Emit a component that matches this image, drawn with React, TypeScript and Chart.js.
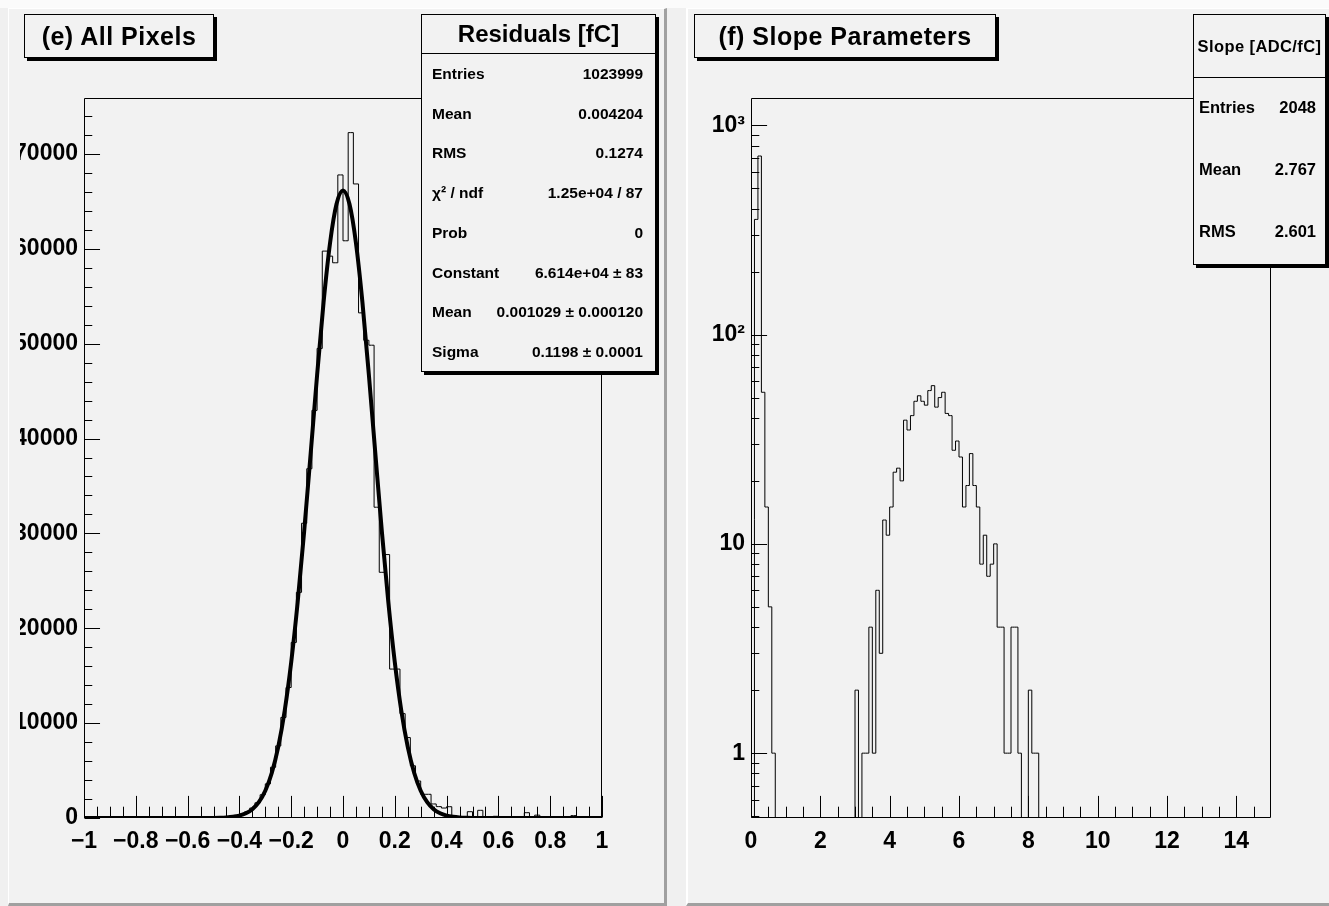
import React, { useEffect, useRef } from "react";
import { Chart, registerables } from "chart.js";
Chart.register(...registerables);

const FONT = '"Liberation Sans", Arial, Helvetica, sans-serif';

// ---------- (e) All Pixels : residuals histogram ----------
const residualBinLow = -1;
const residualBinWidth = 0.02;
const residualCounts = [
  20, 10, 30, 0, 20, 40, 10, 30, 20, 50,
  30, 40, 60, 30, 50, 70, 40, 60, 80, 50,
  90, 70, 100, 80, 120, 100, 130, 160, 200, 280,
  420, 650, 1050, 1600, 2450, 3600, 5350, 7600, 10600, 13760,
  18510, 23790, 31070, 36820, 42970, 49500, 59760, 59230, 58530, 67790,
  60850, 72250, 66840, 53250, 50360, 49840, 32760, 25900, 27770, 15700,
  15700, 11000, 8480, 5500, 3900, 2500, 2500, 1480, 1200, 1050,
  1190, 220, 150, 120, 665, 150, 810, 120, 100, 180,
  90, 120, 80, 110, 90, 560, 100, 300, 80, 120,
  60, 90, 50, 70, 250, 40, 60, 30, 50, 20,
];
// Gaussian fit curve (Constant 6.614e4, Sigma 0.1198)
const fitX = [
  -1, -0.6, -0.55, -0.5, -0.475, -0.45, -0.425, -0.4, -0.375, -0.35, -0.325, -0.3,
  -0.275, -0.25, -0.225, -0.2, -0.175, -0.15, -0.125, -0.1, -0.075, -0.05, -0.025,
  0, 0.025, 0.05, 0.075, 0.1, 0.125, 0.15, 0.175, 0.2, 0.225, 0.25, 0.275, 0.3,
  0.325, 0.35, 0.375, 0.4, 0.425, 0.45, 0.475, 0.5, 0.55, 0.6, 1,
];
const fitY = [
  0, 0, 1, 11, 26, 57, 122, 251, 493, 927, 1669, 2876,
  4744, 7496, 11338, 16416, 22757, 30203, 38375, 46683, 54370, 60624, 64715,
  66140, 64715, 60624, 54370, 46683, 38375, 30203, 22757, 16416, 11338, 7496, 4744, 2876,
  1669, 927, 493, 251, 122, 57, 26, 11, 1, 0, 0,
];
const residualXTicks = [-1, -0.8, -0.6, -0.4, -0.2, 0, 0.2, 0.4, 0.6, 0.8, 1];
const residualXLabels = ["\u22121", "\u22120.8", "\u22120.6", "\u22120.4", "\u22120.2", "0", "0.2", "0.4", "0.6", "0.8", "1"];
const residualXMinor = [
  -0.95, -0.9, -0.85, -0.75, -0.7, -0.65, -0.55, -0.5, -0.45, -0.35, -0.3, -0.25,
  -0.15, -0.1, -0.05, 0.05, 0.1, 0.15, 0.25, 0.3, 0.35, 0.45, 0.5, 0.55, 0.65, 0.7,
  0.75, 0.85, 0.9, 0.95,
];
const residualYTicks = [0, 10000, 20000, 30000, 40000, 50000, 60000, 70000];
const residualYLabels = ["0", "10000", "20000", "30000", "40000", "50000", "60000", "70000"];
const residualYMinor = [
  2000, 4000, 6000, 8000, 12000, 14000, 16000, 18000, 22000, 24000, 26000, 28000,
  32000, 34000, 36000, 38000, 42000, 44000, 46000, 48000, 52000, 54000, 56000, 58000,
  62000, 64000, 66000, 68000, 72000, 74000,
];
const residualYMax = 75900;
const residualStats = [
  ["Entries", "1023999"],
  ["Mean", "0.004204"],
  ["RMS", "0.1274"],
  ["\u03c7\u00b2 / ndf", "1.25e+04 / 87"],
  ["Prob", "0"],
  ["Constant", "6.614e+04 \u00b1 83"],
  ["Mean", "0.001029 \u00b1 0.000120"],
  ["Sigma", "0.1198 \u00b1 0.0001"],
];

// ---------- (f) Slope Parameters ----------
const slopeBinLow = 0;
const slopeBinWidth = 0.1;
const slopeCounts = [
  0, 355, 713, 53, 15, 5, 1, 0, 0, 0,
  0, 0, 0, 0, 0, 0, 0, 0, 0, 0,
  0, 0, 0, 0, 0, 0, 0, 0, 0, 0,
  2, 0, 1, 1, 4, 1, 6, 3, 13, 11,
  15, 22, 23, 20, 39, 35, 41, 48, 51, 48,
  46, 54, 57, 45, 50, 53, 42, 41, 28, 31,
  26, 15, 19, 27, 19, 15, 8, 11, 7, 8,
  10, 4, 4, 1, 1, 4, 4, 1, 0, 0,
  2, 1, 1, 0, 0, 0, 0, 0, 0, 0,
  0, 0, 0, 0, 0, 0, 0, 0, 0, 0,
  0, 0, 0, 0, 0, 0, 0, 0, 0, 0,
  0, 0, 0, 0, 0, 0, 0, 0, 0, 0,
  0, 0, 0, 0, 0, 0, 0, 0, 0, 0,
  0, 0, 0, 0, 0, 0, 0, 0, 0, 0,
  0, 0, 0, 0, 0, 0, 0, 0, 0, 0,
];
const slopeXTicks = [0, 2, 4, 6, 8, 10, 12, 14];
const slopeXLabels = ["0", "2", "4", "6", "8", "10", "12", "14"];
const slopeXMinor = [0.5, 1, 1.5, 2.5, 3, 3.5, 4.5, 5, 5.5, 6.5, 7, 7.5, 8.5, 9, 9.5, 10.5, 11, 11.5, 12.5, 13, 13.5, 14.5];
const slopeYTicks = [1, 10, 100, 1000];
const slopeYLabels = ["1", "10", "10\u00b2", "10\u00b3"];
const slopeYMinor = [0.5, 0.6, 0.7, 0.8, 0.9, 2, 3, 4, 5, 6, 7, 8, 9, 20, 30, 40, 50, 60, 70, 80, 90, 200, 300, 400, 500, 600, 700, 800, 900];
const slopeYMin = 0.49;
const slopeYMax = 1350;
const slopeStats = [
  ["Entries", "2048"],
  ["Mean", "2.767"],
  ["RMS", "2.601"],
];

function stepPoints(low: number, width: number, counts: number[], floor?: number) {
  const v = (c: number) => (floor !== undefined && c <= 0 ? floor : c);
  const pts: { x: number; y: number }[] = [];
  pts.push({ x: low, y: v(counts[0]) });
  counts.forEach((c, i) => pts.push({ x: low + width * (i + 0.5), y: v(c) }));
  pts.push({ x: low + width * counts.length, y: v(counts[counts.length - 1]) });
  return pts;
}

function axesPlugin(cfg: { xMajor: number[]; xMinor: number[]; yMajor: number[]; yMinor: number[] }) {
  return {
    id: "rootAxes",
    afterDatasetsDraw(chart: any) {
      const { ctx, chartArea: a } = chart;
      const xs = chart.scales.x;
      const ys = chart.scales.y;
      const W = a.right - a.left;
      const H = a.bottom - a.top;
      const L = Math.round(a.left) + 0.5;
      const R = Math.round(a.right) - 0.5;
      const T = Math.round(a.top) + 0.5;
      const B = Math.round(a.bottom) - 0.5;
      const yMaj = 0.03 * W;
      const xMaj = 0.03 * H;
      ctx.save();
      ctx.strokeStyle = "#000";
      ctx.lineWidth = 1;
      ctx.beginPath();
      ctx.rect(L, T, R - L, B - T);
      const yLine = (v: number, len: number) => {
        if (v < ys.min || v > ys.max) return;
        const p = Math.round(ys.getPixelForValue(v)) + 0.5;
        ctx.moveTo(L, p);
        ctx.lineTo(L + len, p);
      };
      const xLine = (v: number, len: number) => {
        if (v < xs.min || v > xs.max) return;
        const p = Math.round(xs.getPixelForValue(v)) + 0.5;
        ctx.moveTo(p, B);
        ctx.lineTo(p, B - len);
      };
      cfg.yMajor.forEach((v) => yLine(v, yMaj));
      cfg.yMinor.forEach((v) => yLine(v, yMaj / 2));
      cfg.xMajor.forEach((v) => xLine(v, xMaj));
      cfg.xMinor.forEach((v) => xLine(v, xMaj / 2));
      ctx.stroke();
      ctx.restore();
    },
  };
}

const tickFont = { family: FONT, size: 23, weight: "bold" as const };

function App() {
  const leftRef = useRef<HTMLCanvasElement>(null);
  const rightRef = useRef<HTMLCanvasElement>(null);

  useEffect(() => {
    const left = new Chart(leftRef.current!, {
      type: "line",
      data: {
        datasets: [
          {
            data: fitX.map((x, i) => ({ x, y: fitY[i] })),
            borderColor: "#000",
            borderWidth: 4,
            pointRadius: 0,
            cubicInterpolationMode: "monotone",
            fill: false,
          } as any,
          {
            data: stepPoints(residualBinLow, residualBinWidth, residualCounts),
            borderColor: "#000",
            borderWidth: 1,
            pointRadius: 0,
            stepped: "middle",
            fill: false,
          } as any,
        ],
      },
      options: {
        animation: false,
        responsive: false,
        maintainAspectRatio: false,
        devicePixelRatio: 1,
        layout: { padding: { top: 90, right: 61, left: 0, bottom: 0 } },
        plugins: { legend: { display: false }, tooltip: { enabled: false } },
        scales: {
          x: {
            type: "linear",
            min: -1,
            max: 1,
            grid: { display: false, drawTicks: false },
            border: { display: false },
            ticks: {
              autoSkip: false,
              maxRotation: 0,
              minRotation: 0,
              padding: 10,
              color: "#000",
              font: tickFont,
              callback: (_v: any, i: number) => residualXLabels[i],
            },
            afterBuildTicks: (s: any) => {
              s.ticks = residualXTicks.map((value) => ({ value }));
            },
            afterFit: (s: any) => {
              s.height = 85;
            },
          },
          y: {
            type: "linear",
            min: 0,
            max: residualYMax,
            grid: { display: false, drawTicks: false },
            border: { display: false },
            ticks: {
              autoSkip: false,
              padding: 6,
              color: "#000",
              font: tickFont,
              callback: (_v: any, i: number) => residualYLabels[i],
            },
            afterBuildTicks: (s: any) => {
              s.ticks = residualYTicks.map((value) => ({ value }));
            },
            afterFit: (s: any) => {
              s.width = 64;
            },
          },
        },
      } as any,
      plugins: [axesPlugin({ xMajor: residualXTicks, xMinor: residualXMinor, yMajor: residualYTicks, yMinor: residualYMinor })],
    });

    const right = new Chart(rightRef.current!, {
      type: "line",
      data: {
        datasets: [
          {
            data: stepPoints(slopeBinLow, slopeBinWidth, slopeCounts, 0.01),
            borderColor: "#000",
            borderWidth: 1,
            pointRadius: 0,
            stepped: "middle",
            fill: false,
          } as any,
        ],
      },
      options: {
        animation: false,
        responsive: false,
        maintainAspectRatio: false,
        devicePixelRatio: 1,
        layout: { padding: { top: 90, right: 55, left: 0, bottom: 0 } },
        plugins: { legend: { display: false }, tooltip: { enabled: false } },
        scales: {
          x: {
            type: "linear",
            min: 0,
            max: 15,
            grid: { display: false, drawTicks: false },
            border: { display: false },
            ticks: {
              autoSkip: false,
              maxRotation: 0,
              minRotation: 0,
              padding: 10,
              color: "#000",
              font: tickFont,
              callback: (_v: any, i: number) => slopeXLabels[i],
            },
            afterBuildTicks: (s: any) => {
              s.ticks = slopeXTicks.map((value) => ({ value }));
            },
            afterFit: (s: any) => {
              s.height = 85;
            },
          },
          y: {
            type: "logarithmic",
            min: slopeYMin,
            max: slopeYMax,
            grid: { display: false, drawTicks: false },
            border: { display: false },
            ticks: {
              autoSkip: false,
              padding: 6,
              color: "#000",
              font: tickFont,
              callback: (_v: any, i: number) => slopeYLabels[i],
            },
            afterBuildTicks: (s: any) => {
              s.ticks = slopeYTicks.map((value) => ({ value }));
            },
            afterFit: (s: any) => {
              s.width = 61;
            },
          },
        },
      } as any,
      plugins: [axesPlugin({ xMajor: slopeXTicks, xMinor: slopeXMinor, yMajor: slopeYTicks, yMinor: slopeYMinor })],
    });

    return () => {
      left.destroy();
      right.destroy();
    };
  }, []);

  const abs = (l: number, t: number, w: number, h: number): React.CSSProperties => ({
    position: "absolute",
    left: l,
    top: t,
    width: w,
    height: h,
    boxSizing: "border-box",
  });

  const boxStyle: React.CSSProperties = {
    border: "1px solid #000",
    boxShadow: "3px 3px 0 #000",
    background: "#f2f2f2",
    fontFamily: FONT,
    fontWeight: "bold",
    color: "#000",
  };

  return (
    <div style={{ ...abs(0, 0, 1329, 906), background: "#f0f0f0", overflow: "hidden", fontFamily: FONT }}>
      <div style={{ ...abs(0, 0, 1329, 8), background: "#fbfbfb" }} />
      <div
        style={{
          ...abs(8, 8, 659, 898),
          background: "#f2f2f2",
          borderTop: "1px solid #ffffff",
          borderLeft: "1px solid #ffffff",
          borderRight: "3px solid #a0a0a0",
          borderBottom: "3px solid #a0a0a0",
        }}
      />
      <div
        style={{
          ...abs(686, 8, 643, 898),
          background: "#f2f2f2",
          borderTop: "1px solid #ffffff",
          borderLeft: "2px solid #ffffff",
          borderBottom: "3px solid #a0a0a0",
        }}
      />
      <canvas ref={leftRef} width={643} height={895} style={{ position: "absolute", left: 20, top: 8, width: 643, height: 895 }} />
      <canvas ref={rightRef} width={636} height={895} style={{ position: "absolute", left: 690, top: 8, width: 636, height: 895 }} />

      {/* left title */}
      <div style={{ ...abs(24, 14, 190, 44), ...boxStyle, display: "flex", alignItems: "center", justifyContent: "center", fontSize: 25, letterSpacing: 0.5 }}>
        (e) All Pixels
      </div>
      {/* left stats */}
      <div style={{ ...abs(421, 14, 235, 358), ...boxStyle }}>
        <div style={{ ...abs(0, 0, 233, 39), borderBottom: "1px solid #000", display: "flex", alignItems: "center", justifyContent: "center", fontSize: 24 }}>
          Residuals [fC]
        </div>
        {residualStats.map(([k, v], i) => (
          <div
            key={i}
            style={{
              ...abs(0, 39 + i * 39.75, 233, 39.75),
              display: "flex",
              alignItems: "center",
              justifyContent: "space-between",
              padding: "0 12px 0 10px",
              fontSize: 15.5,
            }}
          >
            <span>{k}</span>
            <span>{v}</span>
          </div>
        ))}
      </div>

      {/* right title */}
      <div style={{ ...abs(694, 14, 302, 44), ...boxStyle, display: "flex", alignItems: "center", justifyContent: "center", fontSize: 25, letterSpacing: 0.5 }}>
        (f) Slope Parameters
      </div>
      {/* right stats */}
      <div style={{ ...abs(1193, 14, 133, 251), ...boxStyle }}>
        <div style={{ ...abs(0, 0, 131, 63), borderBottom: "1px solid #000", display: "flex", alignItems: "center", justifyContent: "center", fontSize: 16.5, letterSpacing: 0.4, whiteSpace: "nowrap" }}>
          Slope [ADC/fC]
        </div>
        {slopeStats.map(([k, v], i) => (
          <div
            key={i}
            style={{
              ...abs(0, 61 + i * 62.3, 131, 62.3),
              display: "flex",
              alignItems: "center",
              justifyContent: "space-between",
              padding: "0 9px 0 5px",
              fontSize: 16.5,
            }}
          >
            <span>{k}</span>
            <span>{v}</span>
          </div>
        ))}
      </div>
    </div>
  );
}

export default App;
